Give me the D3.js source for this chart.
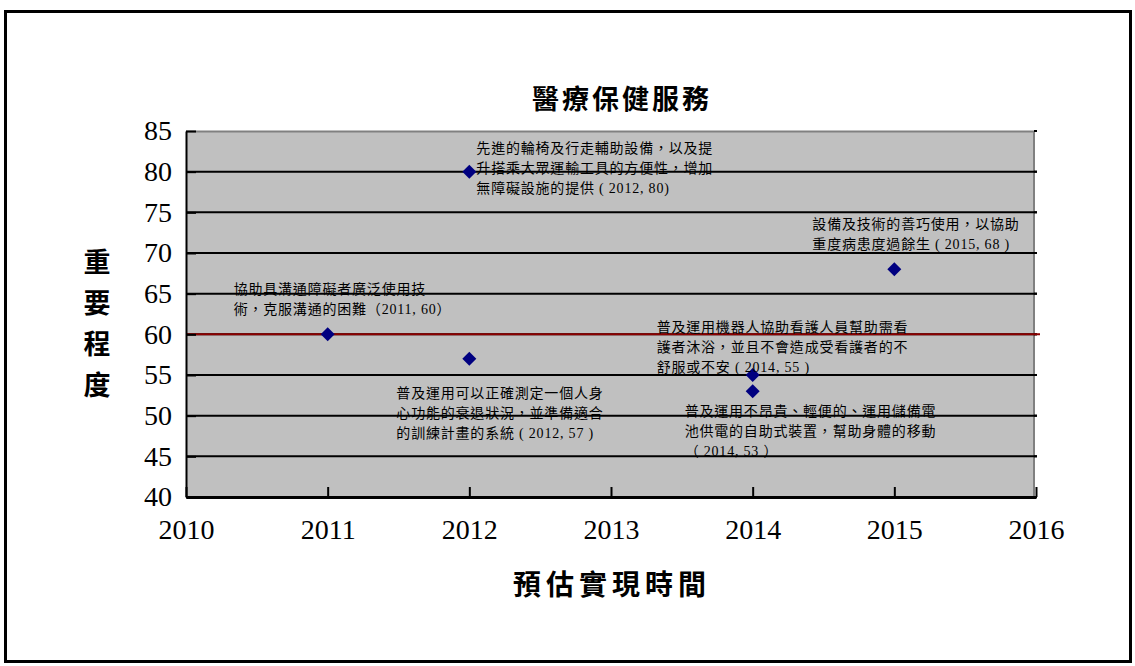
<!DOCTYPE html>
<html>
<head>
<meta charset="utf-8">
<script src="https://cdn.jsdelivr.net/npm/d3@7"></script>
<style>
  html, body { margin: 0; padding: 0; background: #fff; }
  svg { display: block; }
</style>
</head>
<body>
<svg id="chart" width="1135" height="666"></svg>
<script>
// Years when each service is expected to be realised, and its importance score
const years = [2012, 2015, 2011, 2014, 2012, 2014];
const importance = [80, 68, 60, 55, 57, 53];
const descriptions = [
  ["先進的輪椅及行走輔助設備，以及提", "升搭乘大眾運輸工具的方便性，增加", "無障礙設施的提供 ( 2012, 80)"],
  ["設備及技術的善巧使用，以協助", "重度病患度過餘生 ( 2015, 68 )"],
  ["協助具溝通障礙者廣泛使用技", "術，克服溝通的困難（2011, 60）"],
  ["普及運用機器人協助看護人員幫助需看", "護者沐浴，並且不會造成受看護者的不", "舒服或不安 ( 2014, 55 )"],
  ["普及運用可以正確測定一個人身", "心功能的衰退狀況，並準備適合", "的訓練計畫的系統 ( 2012, 57 )"],
  ["普及運用不昂貴、輕便的、運用儲備電", "池供電的自助式裝置，幫助身體的移動", "（ 2014, 53 ）"]
];
// Label placement relative to each point (pixels): left offset and first-line offset
const labelDx = [7, -82, -94, -96, -73, -68];
const labelDy = [-24, -45, -45, -48, 34, 20];

const xTicks = [2010, 2011, 2012, 2013, 2014, 2015, 2016];
const yTicks = [40, 45, 50, 55, 60, 65, 70, 75, 80, 85];
const referenceLevel = 60;

const chartTitle = "醫療保健服務";
const xTitle = "預估實現時間";
const yTitle = ["重", "要", "程", "度"];

const serif = "'Liberation Serif', 'Times New Roman', serif";
const cjk = "'Noto Sans CJK TC', sans-serif";

const svg = d3.select("#chart");
const W = 1135, H = 666;
const plot = { left: 186, right: 1036, top: 131, bottom: 497 };

const x = d3.scaleLinear().domain([2010, 2016]).range([plot.left, plot.right]);
const y = d3.scaleLinear().domain([40, 85]).range([plot.bottom, plot.top]);

// outer frame
svg.append("rect")
  .attr("x", 5.5).attr("y", 11.5)
  .attr("width", W - 10).attr("height", H - 16)
  .attr("fill", "#fff").attr("stroke", "#000").attr("stroke-width", 3);

// plot background
svg.append("rect")
  .attr("x", plot.left).attr("y", plot.top)
  .attr("width", plot.right - plot.left - 2).attr("height", plot.bottom - plot.top)
  .attr("fill", "#c0c0c0");

// top and right borders of the plot area
svg.append("line")
  .attr("x1", plot.left).attr("x2", plot.right - 2)
  .attr("y1", plot.top + 0.5).attr("y2", plot.top + 0.5)
  .attr("stroke", "#808080").attr("stroke-width", 2);
svg.append("line")
  .attr("x1", plot.right - 2).attr("x2", plot.right - 2)
  .attr("y1", plot.top).attr("y2", plot.bottom)
  .attr("stroke", "#808080").attr("stroke-width", 2);

// horizontal gridlines
svg.append("g").selectAll("line")
  .data(yTicks.filter(d => d > 40 && d < 85))
  .join("line")
  .attr("x1", plot.left).attr("x2", plot.right + 1)
  .attr("y1", d => y(d)).attr("y2", d => y(d))
  .attr("stroke", "#000").attr("stroke-width", 2);
// short ticks past the right border
svg.append("g").selectAll("line")
  .data(yTicks)
  .join("line")
  .attr("x1", plot.right - 2).attr("x2", plot.right + 1)
  .attr("y1", d => y(d)).attr("y2", d => y(d))
  .attr("stroke", "#000").attr("stroke-width", 2);

// reference line
svg.append("line")
  .attr("x1", plot.left).attr("x2", plot.right + 4)
  .attr("y1", y(referenceLevel)).attr("y2", y(referenceLevel))
  .attr("stroke", "#8b0000").attr("stroke-width", 2);

// axes with inward ticks
const yAxis = svg.append("g")
  .attr("transform", `translate(${plot.left},0)`)
  .call(d3.axisLeft(y).tickValues(yTicks).tickSize(-10).tickPadding(14).tickSizeOuter(0));
yAxis.attr("font-family", null).attr("font-size", null);
yAxis.select(".domain").attr("stroke", "#000").attr("stroke-width", 2);
yAxis.selectAll(".tick line").attr("stroke", "#000").attr("stroke-width", 2);
yAxis.selectAll("text")
  .style("font-family", serif)
  .style("font-size", "28px").attr("fill", "#000");

const xAxis = svg.append("g")
  .attr("transform", `translate(0,${plot.bottom})`)
  .call(d3.axisBottom(x).tickValues(xTicks).tickFormat(d3.format("d")).tickSize(-10).tickPadding(22).tickSizeOuter(0));
xAxis.attr("font-family", null).attr("font-size", null);
xAxis.select(".domain").attr("stroke", "#000").attr("stroke-width", 3);
xAxis.selectAll(".tick line").attr("stroke", "#000").attr("stroke-width", 2);
xAxis.selectAll("text")
  .style("font-family", serif)
  .style("font-size", "28px").attr("fill", "#000");

// data points as diamonds
const pts = years.map((yr, i) => ({ yr, v: importance[i], lines: descriptions[i], dx: labelDx[i], dy: labelDy[i] }));
const diamond = "M0,-7L7,0L0,7L-7,0Z";
svg.append("g").selectAll("path")
  .data(pts)
  .join("path")
  .attr("d", diamond)
  .attr("transform", d => `translate(${x(d.yr)},${y(d.v)})`)
  .attr("fill", "#000080");

// point descriptions: digits and brackets in serif, CJK glyphs fall back to Noto Sans CJK
const labels = svg.append("g")
  .style("font-family", "'Liberation Serif', 'Noto Sans CJK TC', sans-serif")
  .style("font-size", "14px")
  .attr("letter-spacing", 0.8)
  .attr("fill", "#000");
labels.selectAll("text")
  .data(pts)
  .join("text")
  .attr("x", d => x(d.yr) + d.dx)
  .attr("y", d => y(d.v) + d.dy)
  .attr("dominant-baseline", "central")
  .each(function (d) {
    d3.select(this).selectAll("tspan")
      .data(d.lines)
      .join("tspan")
      .attr("x", x(d.yr) + d.dx)
      .attr("dy", (l, j) => j === 0 ? 0 : 20)
      .text(l => l);
  });

// titles
svg.append("text")
  .attr("x", 622).attr("y", 97)
  .attr("text-anchor", "middle").attr("dominant-baseline", "central")
  .style("font-family", cjk)
  .attr("font-weight", "bold").style("font-size", "27px").attr("letter-spacing", 3)
  .text(chartTitle);

svg.append("text")
  .attr("x", 612).attr("y", 583)
  .attr("text-anchor", "middle").attr("dominant-baseline", "central")
  .style("font-family", cjk)
  .attr("font-weight", "bold").style("font-size", "28px").attr("letter-spacing", 5)
  .text(xTitle);

svg.append("g").selectAll("text")
  .data(yTitle)
  .join("text")
  .attr("x", 97).attr("y", (d, i) => 260 + i * 41)
  .attr("text-anchor", "middle").attr("dominant-baseline", "central")
  .style("font-family", cjk)
  .attr("font-weight", "bold").style("font-size", "27px")
  .text(d => d);
</script>
</body>
</html>
